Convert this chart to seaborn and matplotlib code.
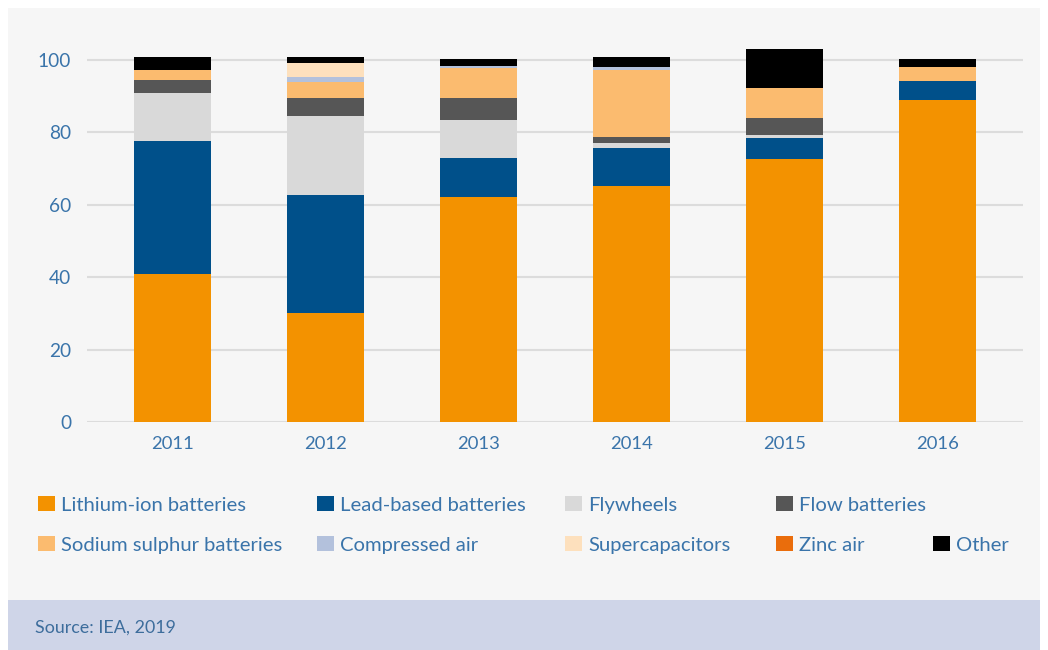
import matplotlib
matplotlib.use("Agg")
import matplotlib.pyplot as plt
import matplotlib.patches as mpatches
import seaborn as sns
import numpy as np

years = ['2011', '2012', '2013', '2014', '2015', '2016']
lithium = [40.8, 30.2, 62.1, 65.2, 72.6, 89.0]
lead = [36.8, 32.5, 10.7, 10.6, 5.8, 5.1]
flywheels = [13.2, 21.8, 10.6, 1.4, 0.9, 0.0]
flow = [3.7, 5.0, 6.1, 1.6, 4.6, 0.0]
sodium = [2.7, 4.3, 8.3, 18.4, 8.3, 4.1]
compressed = [0.0, 1.6, 0.6, 1.0, 0.0, 0.0]
supercap = [0.0, 3.8, 0.0, 0.0, 0.0, 0.0]
zinc = [0.0, 0.0, 0.0, 0.0, 0.0, 0.0]
other = [3.5, 1.5, 1.9, 2.5, 10.8, 2.1]

series_names = ['Lithium-ion batteries', 'Lead-based batteries', 'Flywheels',
                'Flow batteries', 'Sodium sulphur batteries', 'Compressed air',
                'Supercapacitors', 'Zinc air', 'Other']
series_values = [lithium, lead, flywheels, flow, sodium, compressed, supercap, zinc, other]
colors = ['#f39200', '#00508a', '#d9d9d9', '#565656', '#fbbb6f', '#b3c1dc',
          '#fde0bd', '#ea6d0c', '#000000']

sns.set_theme(style="white")
plt.rcParams['font.family'] = ['Lato', 'DejaVu Sans']

W, H = 1048, 650
fig = plt.figure(figsize=(W / 100, H / 100), dpi=100, facecolor='white')

# panel backgrounds
fig.patches.append(mpatches.Rectangle((8 / W, 1 - 600 / H), 1 - 16 / W, (600 - 8) / H,
                                      transform=fig.transFigure, facecolor='#f6f6f6',
                                      edgecolor='none', zorder=-10))
fig.patches.append(mpatches.Rectangle((8 / W, 0), 1 - 16 / W, 50 / H,
                                      transform=fig.transFigure, facecolor='#cfd5e8',
                                      edgecolor='none', zorder=-10))

ymax = 104
ax = fig.add_axes([87 / W, 1 - 422 / H, (1023 - 87) / W, (ymax * 3.62) / H])
ax.set_facecolor('none')

bottom = np.zeros(len(years))
for name, vals, c in zip(series_names, series_values, colors):
    v = np.array(vals)
    sns.barplot(x=years, y=v, bottom=bottom, color=c, width=0.5, saturation=1,
                linewidth=0, ax=ax, order=years)
    bottom = bottom + v

ax.set_xlim(-0.56, 5.56)
ax.set_ylim(0, ymax)
ax.set_yticks([0, 20, 40, 60, 80, 100])
ax.yaxis.grid(True, color='#dcdcdc', linewidth=1.5)
ax.set_axisbelow(True)
for s in ax.spines.values():
    s.set_visible(False)
txtc = '#3a74aa'
ax.tick_params(axis='y', length=0, pad=11.5, labelsize=13.8, labelcolor=txtc)
ax.tick_params(axis='x', length=0, pad=10, labelsize=13.3, labelcolor=txtc)
ax.set_xlabel('')
ax.set_ylabel('')

# legend entries
col_x = [38, 317, 565, 776, 933]
row_y = [505, 545]
layout = [(0, 0), (1, 0), (2, 0), (3, 0),
          (0, 1), (1, 1), (2, 1), (3, 1), (4, 1)]
for (ci, ri), name, c in zip(layout, series_names, colors):
    h = mpatches.Patch(facecolor=c, edgecolor='none')
    leg = fig.legend([h], [name], loc='center left',
                     bbox_to_anchor=(col_x[ci] / W, 1 - row_y[ri] / H),
                     frameon=False, fontsize=14.6, borderpad=0, borderaxespad=0,
                     handlelength=0.85, handleheight=0.75, handletextpad=0.3)
    for t in leg.get_texts():
        t.set_color(txtc)

fig.text(35 / W, 1 - 628 / H, 'Source: IEA, 2019', fontsize=12.9, color='#3d6d9c',
         va='center', ha='left')

fig.savefig('out.png', dpi=100, facecolor=fig.get_facecolor())
